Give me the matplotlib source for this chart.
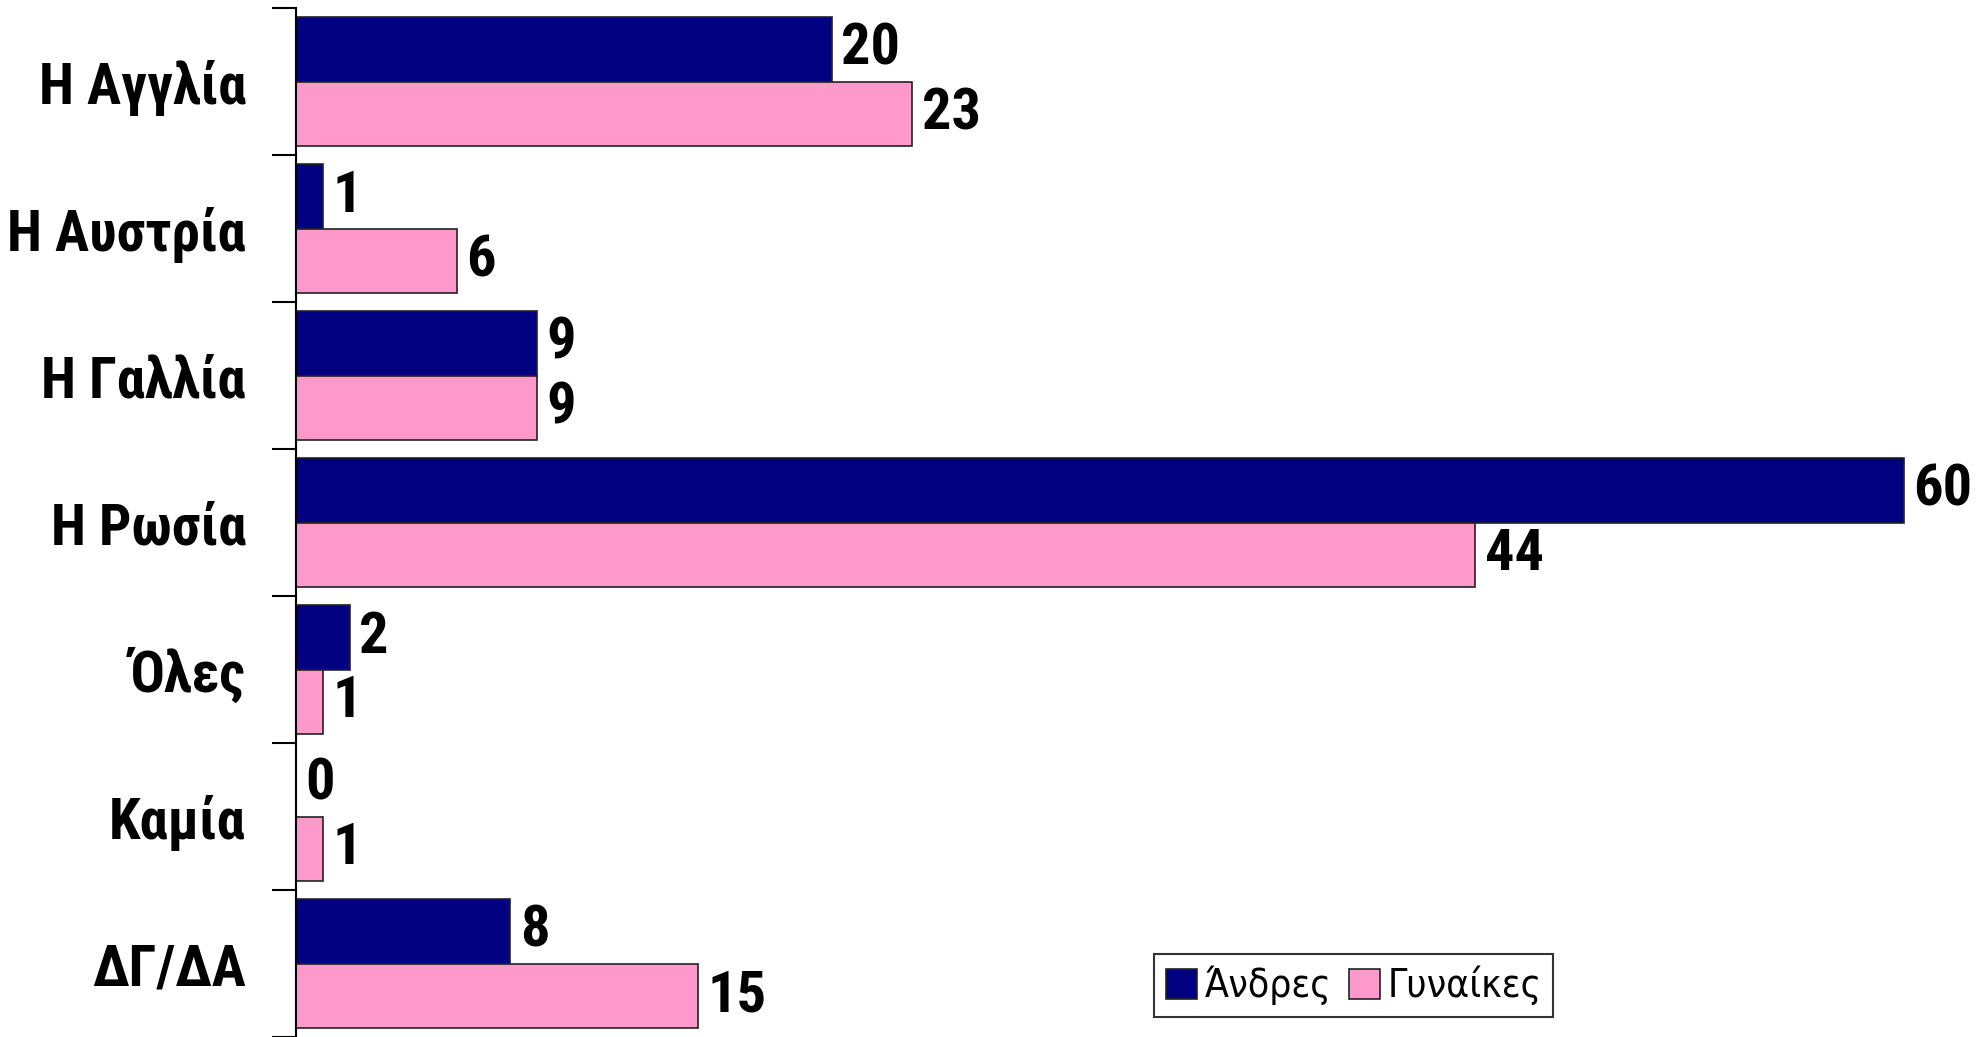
import matplotlib.pyplot as plt
import numpy as np

# Data
categories = ["Η Αγγλία", "Η Αυστρία", "Η Γαλλία", "Η Ρωσία", "Όλες", "Καμία", "ΔΓ/ΔΑ"]
men = [20, 1, 9, 60, 2, 0, 8]
women = [23, 6, 9, 44, 1, 1, 15]
series_labels = ["Άνδρες", "Γυναίκες"]

NAVY = "#000080"
PINK = "#FF99CC"
NARROW = ["Roboto Condensed", "Open Sans Condensed", "DejaVu Sans"]

fig = plt.figure(figsize=(19.87, 10.37), dpi=100)
ax = fig.add_axes([296 / 1987, 0.0, 1 - 296 / 1987, 1029 / 1037])

y = np.arange(len(categories))
h = 0.44
b1 = ax.barh(y - h / 2, men, h, color=NAVY, edgecolor="#222222", lw=1.2, label=series_labels[0])
b2 = ax.barh(y + h / 2, women, h, color=PINK, edgecolor="#222222", lw=1.2, label=series_labels[1])

for bars, vals in ((b1, men), (b2, women)):
    for rect, v in zip(bars, vals):
        ax.text(rect.get_width() + 0.35, rect.get_y() + rect.get_height() / 2, str(v),
                ha="left", va="center", fontsize=42, fontweight="bold", family=NARROW)

ax.set_xlim(0, 63.1)
ax.set_ylim(len(categories) - 0.5, -0.5)

# boundary ticks, labels centred on categories
ax.set_yticks(np.arange(len(categories) + 1) - 0.5)
ax.set_yticklabels([])
ax.tick_params(axis="y", which="major", direction="out", length=17, width=1.5)
ax.set_yticks(y, minor=True)
ax.set_yticklabels(categories, minor=True, fontsize=41, fontweight="bold", family=NARROW)
ax.tick_params(axis="y", which="minor", length=0, pad=36)

ax.set_xticks([])
for s in ("top", "right", "bottom"):
    ax.spines[s].set_visible(False)
ax.spines["left"].set_linewidth(1.5)

leg = fig.legend(loc="lower left", bbox_to_anchor=(1154 / 1987, 20 / 1037), ncol=2,
                 prop={"family": "DejaVu Sans", "size": 28, "stretch": "condensed"},
                 frameon=True, fancybox=False, edgecolor="black",
                 handlelength=0.8, handleheight=0.8, handletextpad=0.2, columnspacing=0.45,
                 borderpad=0.3, borderaxespad=0)
leg.get_frame().set_linewidth(1.5)

fig.savefig("out.png")
